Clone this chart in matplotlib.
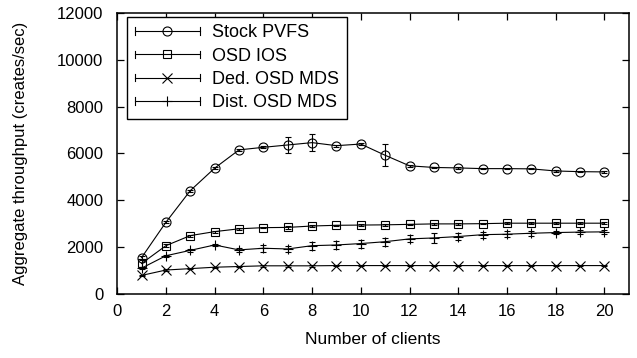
import matplotlib
matplotlib.use('Agg')
import matplotlib.pyplot as plt
from matplotlib.lines import Line2D
from matplotlib.legend_handler import HandlerLine2D

plt.rcParams['font.family'] = ['Liberation Sans', 'DejaVu Sans']

clients = list(range(1, 21))

stock_pvfs = [1550, 3060, 4410, 5370, 6150, 6260, 6360, 6460, 6330, 6400,
              5920, 5470, 5400, 5380, 5350, 5350, 5340, 5250, 5220, 5210]
stock_err = [60, 40, 40, 40, 30, 40, 350, 350, 40, 40,
             470, 40, 30, 40, 30, 20, 20, 30, 30, 30]

osd_ios = [1300, 2060, 2490, 2660, 2780, 2830, 2840, 2900, 2930, 2940,
           2950, 2970, 2990, 2990, 3000, 3020, 3020, 3020, 3020, 3020]
osd_err = [150, 60, 40, 40, 30, 30, 60, 60, 30, 30,
           30, 30, 30, 30, 30, 30, 30, 30, 30, 30]

ded_mds = [790, 1020, 1080, 1140, 1170, 1200, 1200, 1200, 1210, 1210,
           1210, 1210, 1210, 1210, 1210, 1210, 1210, 1210, 1210, 1210]
ded_err = [30] * 20

dist_mds = [1100, 1630, 1860, 2090, 1880, 1950, 1920, 2060, 2090, 2150,
            2230, 2350, 2390, 2450, 2530, 2550, 2590, 2620, 2640, 2650]
dist_err = [50, 50, 50, 50, 80, 150, 130, 170, 170, 170,
            170, 150, 200, 150, 130, 120, 100, 80, 80, 80]

labels = ['Stock PVFS', 'OSD IOS', 'Ded. OSD MDS', 'Dist. OSD MDS']
markers = ['o', 's', 'x', '+']
sizes = [6.5, 6, 7, 7.5]


# gnuplot-like legend sample: line with small caps at both ends
class CapHandler(HandlerLine2D):
    def create_artists(self, legend, orig_handle, xdescent, ydescent, width,
                       height, fontsize, trans):
        arts = super().create_artists(legend, orig_handle, xdescent, ydescent,
                                      width, height, fontsize, trans)
        y = height / 2 - ydescent
        h = height * 0.3
        for x in (-xdescent, width - xdescent):
            arts.append(Line2D([x, x], [y - h, y + h], color='black', lw=0.8,
                               transform=trans))
        return arts


fig = plt.figure(figsize=(6.37, 3.58), dpi=100)
ax = fig.add_axes([0.184, 0.179, 0.803, 0.785])

series = [(stock_pvfs, stock_err), (osd_ios, osd_err), (ded_mds, ded_err), (dist_mds, dist_err)]
for (vals, err), m, ms in zip(series, markers, sizes):
    ax.errorbar(clients, vals, yerr=err, color='black', lw=0.8, marker=m, ms=ms,
                mfc='none', mec='black', mew=0.8, capsize=2.5, elinewidth=0.8,
                capthick=0.8)

ax.set_xlim(0, 21)
ax.set_ylim(0, 12000)
ax.set_xticks(range(0, 21, 2))
ax.set_yticks(range(0, 12001, 2000))
ax.tick_params(direction='in', top=True, right=True, length=5, labelsize=12, width=0.9)
ax.tick_params(axis='x', pad=7)
ax.tick_params(axis='y', pad=10)
for s in ax.spines.values():
    s.set_linewidth(1.1)
ax.set_xlabel('Number of clients', fontsize=12.5)
ax.set_ylabel('Aggregate throughput (creates/sec)', fontsize=12)
ax.xaxis.set_label_coords(0.5, -0.135)
ax.yaxis.set_label_coords(-0.174, 0.5)

handles = [Line2D([], [], color='black', lw=0.8, marker=m, ms=ms, mfc='none', mew=0.8)
           for m, ms in zip(markers, sizes)]
leg = ax.legend(handles, labels, loc='upper left', bbox_to_anchor=(0.02, 0.985),
                fontsize=13, frameon=True, fancybox=False, edgecolor='black',
                framealpha=1, handlelength=3.6, borderpad=0.4, labelspacing=0.35,
                handletextpad=0.7, borderaxespad=0,
                handler_map={Line2D: CapHandler()})
leg.get_frame().set_linewidth(1.0)

fig.savefig('out.png', dpi=100)
